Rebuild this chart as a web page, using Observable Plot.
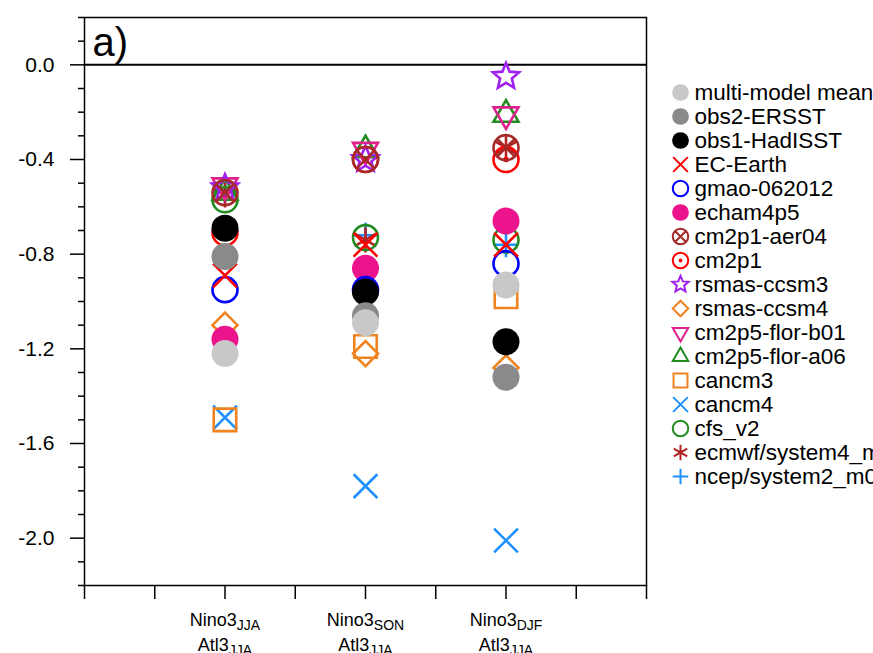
<!DOCTYPE html>
<html><head><meta charset="utf-8">
<script src="https://cdn.jsdelivr.net/npm/d3@7"></script>
<script src="https://cdn.jsdelivr.net/npm/@observablehq/plot@0.6"></script>
<style>
html,body{margin:0;padding:0;background:#fff;overflow:hidden;}
#chart{position:relative;width:873px;height:653px;overflow:hidden;}
#legend{position:absolute;left:660px;top:0;}
</style></head><body><div id="chart"></div>
<script>
// ---- categories & ticks ----
const seasons = ["JJA", "SON", "DJF"];
const seasonX = [2, 4, 6];
const xTicks = [0, 1, 2, 3, 4, 5, 6, 7, 8];
const yMajor = [-2.0, -1.6, -1.2, -0.8, -0.4, 0.0];
const yMinor = [-2.2, -2.1, -1.9, -1.8, -1.7, -1.5, -1.4, -1.3, -1.1, -1.0, -0.9, -0.7, -0.6, -0.5, -0.3, -0.2, -0.1, 0.1, 0.2];

// ---- series (legend order) ----
const names = ["multi-model mean", "obs2-ERSST", "obs1-HadISST", "EC-Earth", "gmao-062012", "echam4p5",
  "cm2p1-aer04", "cm2p1", "rsmas-ccsm3", "rsmas-ccsm4", "cm2p5-flor-b01", "cm2p5-flor-a06",
  "cancm3", "cancm4", "cfs_v2", "ecmwf/system4_m01", "ncep/system2_m01"];
const colors = ["#c8c8c8", "#8a8a8a", "#000000", "#ff0000", "#0000ff", "#ec148c",
  "#a52a2a", "#ff0000", "#a020f0", "#ee8320", "#e0208c", "#228b22",
  "#ee8320", "#1e90ff", "#228b22", "#b22222", "#1e90ff"];
const kinds = ["fcircle", "fcircle", "fcircle", "times", "circle", "fcircle",
  "ocross", "odot", "star", "diamond", "tridown", "triup",
  "square", "times", "circle", "asterisk", "plus"];

// values for JJA, SON, DJF
const multiModelMean = [-1.22, -1.09, -0.93];
const obs2ERSST = [-0.81, -1.06, -1.32];
const obs1HadISST = [-0.69, -0.96, -1.17];
const ecEarth = [-0.89, -0.76, -0.76];
const gmao062012 = [-0.95, -0.95, -0.84];
const echam4p5 = [-1.16, -0.86, -0.66];
const cm2p1Aer04 = [-0.54, -0.40, -0.35];
const cm2p1 = [-0.71, -0.40, -0.40];
const rsmasCcsm3 = [-0.52, -0.40, -0.05];
const rsmasCcsm4 = [-1.10, -1.22, -1.28];
const cm2p5FlorB01 = [-0.51, -0.36, -0.21];
const cm2p5FlorA06 = [-0.54, -0.36, -0.21];
const cancm3 = [-1.50, -1.19, -0.98];
const cancm4 = [-1.49, -1.78, -2.01];
const cfsV2 = [-0.57, -0.73, -0.74];
const ecmwfSystem4 = [-0.55, -0.74, -0.35];
const ncepSystem2 = [-0.53, -0.72, -0.76];

const allValues = [multiModelMean, obs2ERSST, obs1HadISST, ecEarth, gmao062012, echam4p5,
  cm2p1Aer04, cm2p1, rsmasCcsm3, rsmasCcsm4, cm2p5FlorB01, cm2p5FlorA06,
  cancm3, cancm4, cfsV2, ecmwfSystem4, ncepSystem2];

// ---- custom marker shapes ----
function sym(kind) {
  return {
    draw(ctx, size) {
      const r = Math.sqrt(size / Math.PI);
      const circ = (rr) => { ctx.moveTo(rr, 0); ctx.arc(0, 0, rr, 0, 2 * Math.PI); };
      switch (kind) {
        case "circle": circ(r); break;
        case "times": { const a = r * 0.95; ctx.moveTo(-a, -a); ctx.lineTo(a, a); ctx.moveTo(-a, a); ctx.lineTo(a, -a); break; }
        case "plus": { const a = r * 1.0; ctx.moveTo(-a, 0); ctx.lineTo(a, 0); ctx.moveTo(0, -a); ctx.lineTo(0, a); break; }
        case "ocross": { circ(r); const a = r * Math.SQRT1_2; ctx.moveTo(-a, -a); ctx.lineTo(a, a); ctx.moveTo(-a, a); ctx.lineTo(a, -a); break; }
        case "odot": { circ(r); circ(r * 0.12); break; }
        case "diamond": { const a = r * 1.0; ctx.moveTo(0, -a); ctx.lineTo(a, 0); ctx.lineTo(0, a); ctx.lineTo(-a, 0); ctx.closePath(); break; }
        case "square": { const a = r * 0.9; ctx.moveTo(-a, -a); ctx.lineTo(a, -a); ctx.lineTo(a, a); ctx.lineTo(-a, a); ctx.closePath(); break; }
        case "triup": { const R = r * 1.15; const s = Math.sqrt(3) / 2 * R; ctx.moveTo(0, -R); ctx.lineTo(s, R / 2); ctx.lineTo(-s, R / 2); ctx.closePath(); break; }
        case "tridown": { const R = r * 1.15; const s = Math.sqrt(3) / 2 * R; ctx.moveTo(0, R); ctx.lineTo(s, -R / 2); ctx.lineTo(-s, -R / 2); ctx.closePath(); break; }
        case "star": {
          const R = r * 1.1, ri = R * 0.45;
          for (let k = 0; k < 10; k++) {
            const rr = k % 2 === 0 ? R : ri;
            const ang = -Math.PI / 2 + k * Math.PI / 5;
            const px = rr * Math.cos(ang), py = rr * Math.sin(ang);
            if (k === 0) ctx.moveTo(px, py); else ctx.lineTo(px, py);
          }
          ctx.closePath(); break;
        }
        case "asterisk": {
          const a = r * 1.0;
          for (let k = 0; k < 3; k++) {
            const ang = Math.PI / 2 + k * Math.PI / 3;
            ctx.moveTo(a * Math.cos(ang), a * Math.sin(ang));
            ctx.lineTo(-a * Math.cos(ang), -a * Math.sin(ang));
          }
          break;
        }
        default: circ(r);
      }
    }
  };
}

function dotStyle(k, scale) {
  const kind = kinds[k];
  if (kind === "fcircle") return {symbol: "circle", r: 13.5 * scale, fill: colors[k], stroke: "none"};
  return {symbol: sym(kind), r: 12.5 * scale, fill: "none", stroke: colors[k], strokeWidth: scale < 1 ? 2 : 2.6};
}

const font = "'Liberation Sans', Arial, Helvetica, sans-serif";

// ---- main plot ----
const seriesMarks = [];
for (let k = names.length - 1; k >= 0; k--) {
  const data = seasonX.map((x, i) => ({x, v: allValues[k][i]}));
  seriesMarks.push(Plot.dot(data, {x: "x", y: "v", ...dotStyle(k, 1)}));
}

const main = Plot.plot({
  width: 873, height: 653,
  marginLeft: 84, marginRight: 227, marginTop: 17, marginBottom: 68,
  style: {fontFamily: font, color: "black", background: "white", overflow: "visible"},
  x: {domain: [0, 8], label: null},
  y: {domain: [-2.2, 0.2], label: null},
  marks: [
    Plot.axisY(yMinor, {tickSize: 6, tickFormat: () => "", strokeWidth: 1.5, label: null}),
    Plot.axisY(yMajor, {tickSize: 14, tickPadding: 16, tickFormat: d => d.toFixed(1), fontSize: 21, strokeWidth: 1.5, label: null}),
    Plot.axisX(xTicks, {tickSize: 14, tickFormat: () => "", strokeWidth: 1.5, label: null}),
    Plot.text(seasons, {x: seasonX, frameAnchor: "bottom", fontSize: 18}),
    Plot.ruleY([0], {stroke: "black", strokeWidth: 2}),
    Plot.text(["a)"], {frameAnchor: "top-left", dx: 8, dy: 10, lineAnchor: "top", fontSize: 40}),
    ...seriesMarks,
    Plot.frame({stroke: "black", strokeWidth: 1.5})
  ]
});

// rich x tick labels with subscripts (positions from the plot's own scales)
const sx = main.scale("x"), sy = main.scale("y");
const baseY = sy.apply(-2.2);
d3.select(main).selectAll("text")
  .filter(function () { return seasons.includes(this.textContent); })
  .each(function () {
    const j = seasons.indexOf(this.textContent);
    const px = sx.apply(seasonX[j]);
    const t = d3.select(this);
    t.text(null).attr("transform", null).attr("x", null).attr("y", null).attr("dy", null)
      .attr("text-anchor", "middle").attr("font-size", 18);
    t.append("tspan").attr("x", px).attr("y", baseY + 40).text("Nino3");
    t.append("tspan").attr("dy", 4).attr("font-size", 14).text(seasons[j]);
    t.append("tspan").attr("x", px).attr("y", baseY + 65).text("Atl3");
    t.append("tspan").attr("dy", 4).attr("font-size", 14).text("JJA");
  });

document.getElementById("chart").appendChild(main);

// ---- legend ----
const legendMarks = [];
for (let k = 0; k < names.length; k++) {
  legendMarks.push(Plot.dot([names[k]], {x: 0, y: d => d, ...dotStyle(k, 0.62)}));
}
const legend = Plot.plot({
  width: 213, height: 653, margin: 0,
  style: {fontFamily: font, color: "black", background: "transparent"},
  x: {domain: [0, 1], range: [20, 34], axis: null},
  y: {type: "point", domain: names, range: [89, 478], padding: 0, axis: null},
  marks: [
    ...legendMarks,
    Plot.text(names, {x: 1, y: d => d, textAnchor: "start", fontSize: 22.5})
  ]
});
legend.id = "legend";
document.getElementById("chart").appendChild(legend);
</script></body></html>
